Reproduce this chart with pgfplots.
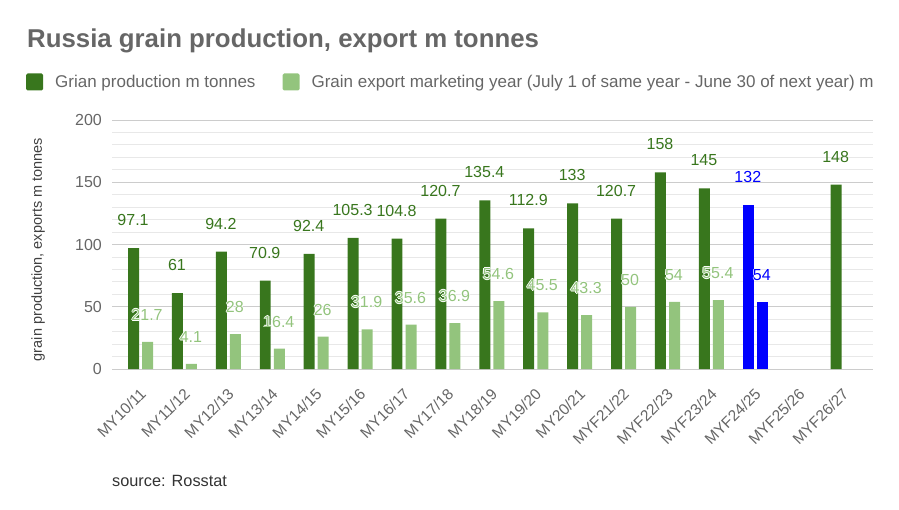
\documentclass[border=0pt]{standalone}
\usepackage{pgfplots}
\pgfplotsset{compat=1.18}
\usepackage{fontspec}
\setmainfont{Liberation Sans}
\definecolor{dg}{HTML}{38761D}
\definecolor{lg}{HTML}{93C47D}
\definecolor{bl}{HTML}{0000FF}
\definecolor{txt}{HTML}{666666}
\newcommand\halotext[1]{\leavevmode\rlap{\color{white}\hspace{-0.9pt}#1}\rlap{\color{white}\hspace{0.9pt}#1}\rlap{\color{white}\raisebox{0.9pt}{#1}}\rlap{\color{white}\raisebox{-0.9pt}{#1}}#1}
\begin{document}
\begin{tikzpicture}[x=1pt,y=1pt]
\path[use as bounding box] (0,0) rectangle (899,-510);
\node[anchor=base west, font=\bfseries\fontsize{25.8}{30}\selectfont, text=txt, inner sep=0] at (27,-48) {Russia grain production, export m tonnes};
\node[anchor=base west, inner sep=0, font=\fontsize{16.3}{19}\selectfont, text=black!80] at (112,-486) {source: Rosstat};
\begin{axis}[
  at={(112pt,-369pt)}, anchor=south west,
  scale only axis, width=761pt, height=249pt,
  xmin=-0.65, xmax=16.68, ymin=0, ymax=200,
  ytick={0,50,...,200}, minor ytick={10,20,...,190},
  ymajorgrids, yminorgrids,
  major grid style={color=black!20, line width=0.8pt},
  minor grid style={color=black!9, line width=0.8pt},
  axis line style={draw=none},
  tick style={draw=none},
  extra y ticks={0}, extra y tick labels={},
  extra y tick style={grid style={color=black!65, line width=1.1pt}},
  xtick={0,...,16},
  xticklabels={MY10/11,MY11/12,MY12/13,MY13/14,MY14/15,MY15/16,MY16/17,MY17/18,MY18/19,MY19/20,MY20/21,MYF21/22,MYF22/23,MYF23/24,MYF24/25,MYF25/26,MYF26/27},
  x tick label style={xshift=-1.5pt, yshift=-18pt, rotate=45, anchor=north east, font=\fontsize{15.5}{18}\selectfont, text=txt, inner sep=0pt},
  y tick label style={font=\fontsize{16}{19}\selectfont, text=txt, inner sep=0pt, xshift=-10pt},
  /pgf/number format/assume math mode=true,
  ylabel={grain production, exports m tonnes},
  every axis y label/.style={at={(axis description cs:-0.097,0.48)}, rotate=90, anchor=center, font=\fontsize{14.5}{17}\selectfont, text=black!75},
  legend columns=2,
  legend style={at={(-0.1130,1.1526)}, anchor=west, draw=none, fill=none, inner sep=0pt, font=\fontsize{17}{20}\selectfont, text=txt,
    /tikz/every even column/.append style={column sep=25pt},
    /tikz/every odd column/.append style={column sep=10pt}},
  legend image code/.code={\fill[#1, rounded corners=1.5pt] (0pt,-8.5pt) rectangle (17pt,8.5pt);},
  point meta=explicit symbolic,
]
\addplot[ybar, bar width=0.25, bar shift=-0.16, fill=dg, draw=none, nodes near coords,
  every node near coord/.append style={anchor=center, inner sep=0pt, yshift=28pt, xshift=-7.5pt, font=\fontsize{16}{19}\selectfont, text=dg}]
  coordinates {(0,97.1)[97.1] (1,61)[61] (2,94.2)[94.2] (3,70.9)[70.9] (4,92.4)[92.4] (5,105.3)[105.3] (6,104.8)[104.8] (7,120.7)[120.7] (8,135.4)[135.4] (9,112.9)[112.9] (10,133)[133] (11,120.7)[120.7] (12,158)[158] (13,145)[145] (16,148)[148]};
\addlegendentry{Grian production m tonnes}
\addplot[ybar, bar width=0.25, bar shift=0.16, fill=lg, draw=none, nodes near coords={\halotext{\pgfplotspointmeta}},
  every node near coord/.append style={anchor=center, inner sep=0pt, yshift=27pt, xshift=6.5pt, font=\fontsize{16}{19}\selectfont, text=lg}]
  coordinates {(0,21.7)[21.7] (1,4.1)[4.1] (2,28)[28] (3,16.4)[16.4] (4,26)[26] (5,31.9)[31.9] (6,35.6)[35.6] (7,36.9)[36.9] (8,54.6)[54.6] (9,45.5)[45.5] (10,43.3)[43.3] (11,50)[50] (12,54)[54] (13,55.4)[55.4]};
\addlegendentry{Grain export marketing year (July 1 of same year - June 30 of next year) m}
\addplot[ybar, bar width=0.25, bar shift=-0.16, fill=bl, draw=none, forget plot, nodes near coords,
  every node near coord/.append style={anchor=center, inner sep=0pt, yshift=28pt, xshift=-7.5pt, font=\fontsize{16}{19}\selectfont, text=bl}]
  coordinates {(14,132)[132]};
\addplot[ybar, bar width=0.25, bar shift=0.16, fill=bl, draw=none, forget plot, nodes near coords={\halotext{\pgfplotspointmeta}},
  every node near coord/.append style={anchor=center, inner sep=0pt, yshift=27pt, xshift=6.5pt, font=\fontsize{16}{19}\selectfont, text=bl}]
  coordinates {(14,54)[54]};
\end{axis}
\end{tikzpicture}
\end{document}
